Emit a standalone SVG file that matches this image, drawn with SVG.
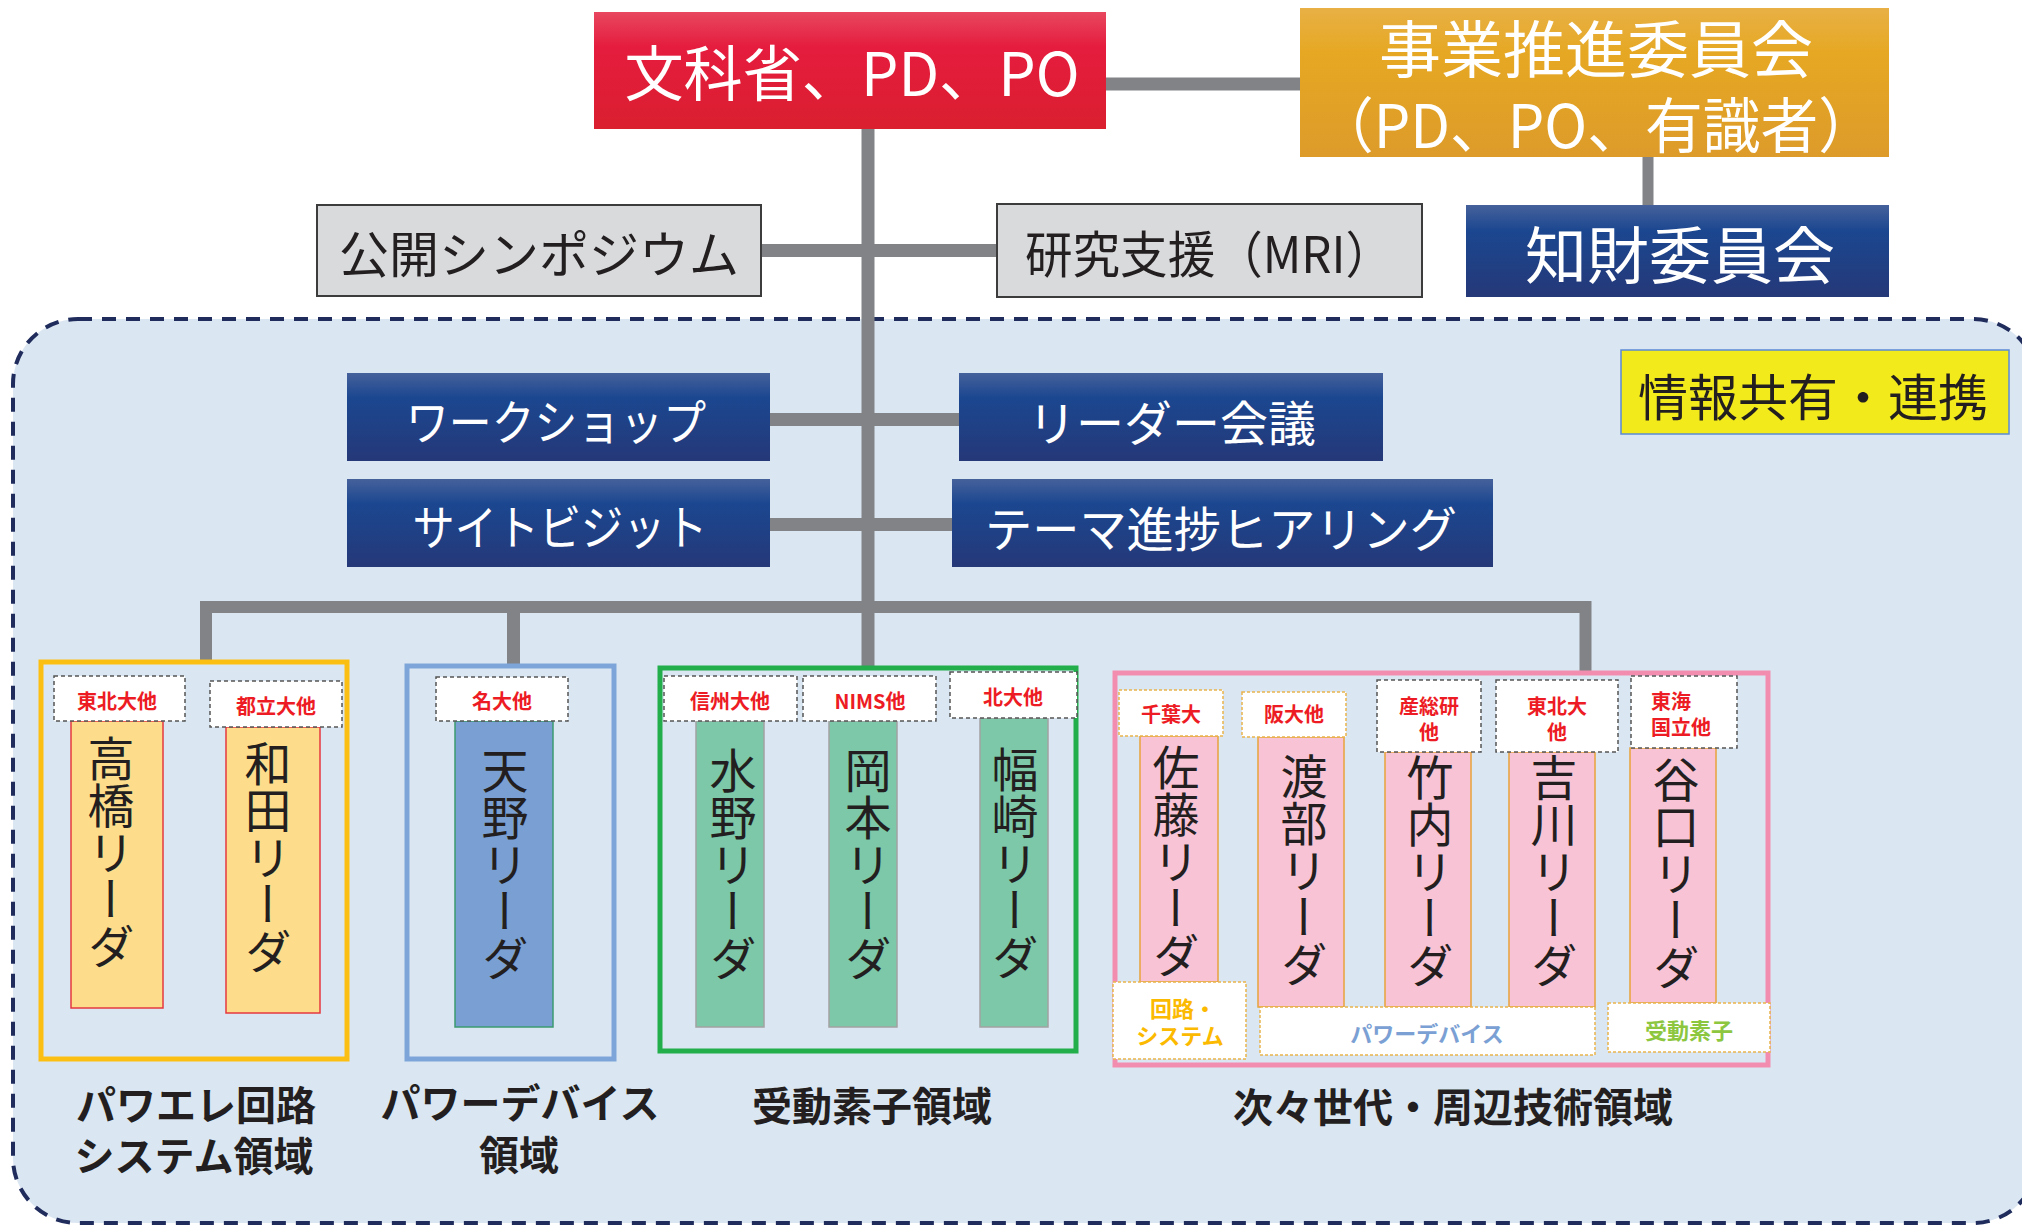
<svg xmlns="http://www.w3.org/2000/svg" width="2022" height="1226" viewBox="0 0 2022 1226">
<defs>
<linearGradient id="gRed" x1="0" y1="0" x2="0" y2="1">
<stop offset="0" stop-color="#e8475f"/><stop offset="0.3" stop-color="#e51c3e"/><stop offset="1" stop-color="#da1f2f"/>
</linearGradient>
<linearGradient id="gOrange" x1="0" y1="0" x2="0" y2="1">
<stop offset="0" stop-color="#e8b045"/><stop offset="0.3" stop-color="#e6a823"/><stop offset="1" stop-color="#dd9b2a"/>
</linearGradient>
<linearGradient id="gBlue" x1="0" y1="0" x2="0" y2="1">
<stop offset="0" stop-color="#46619b"/><stop offset="0.28" stop-color="#1b4790"/><stop offset="1" stop-color="#253878"/>
</linearGradient>
<style>
text{font-family:"Noto Sans CJK JP","Noto Sans CJK SC",sans-serif}
.w{fill:#fff}
.k{fill:#231f20}
.mid{text-anchor:middle}
.conn{fill:none;stroke:#818386;stroke-width:13}
.gray{fill:#d9dadc;stroke:#3c3c3c;stroke-width:2}
.blue{fill:url(#gBlue)}
.tag{fill:#fff;stroke:#555;stroke-width:1.5;stroke-dasharray:4 3}
.tagO{fill:#fff;stroke:#e9b44c;stroke-width:1.5;stroke-dasharray:3 2}
.red{fill:#ed1c24;font-weight:700;font-size:20px;text-anchor:middle}
.vt{writing-mode:vertical-rl;font-size:47px;fill:#231f20;text-anchor:middle}
.lbl{font-size:40px;font-weight:700;fill:#231f20;text-anchor:middle}
.grp{fill:none;stroke-width:5}
.barY{fill:#fddd8c;stroke:#e5383f;stroke-width:1.5}
.barB{fill:#7a9fd3;stroke:#3c9a72;stroke-width:1.5}
.barG{fill:#7cc8a9;stroke:#a3a3a3;stroke-width:1.5}
.barP{fill:#f9c3d6;stroke:#e9a23b;stroke-width:1.5}
.sub{font-weight:700;font-size:22px}
</style>
</defs>
<rect width="2022" height="1226" fill="#fff"/>
<rect id="region" x="13" y="319" width="2025" height="904" rx="65" ry="65" fill="#dbe6f3" stroke="#1f2c5c" stroke-width="4" stroke-dasharray="14 10"/>

<g id="connectors">
<path class="conn" d="M1106,84 H1300"/>
<path class="conn" d="M1648,157 V205" style="stroke-width:11"/>
<path class="conn" d="M761,250.5 H997"/>
<path class="conn" d="M770,419.5 H959"/>
<path class="conn" d="M770,524.5 H952"/>
<path class="conn" d="M206,660 V607 H1585.5 V672" style="stroke-width:12"/>
<path class="conn" d="M513.5,607 V664"/>
<path class="conn" d="M868,129 V667"/>
</g>

<g id="monka">
<rect x="594" y="12" width="512" height="117" fill="url(#gRed)"/>
<text class="w mid" x="852" y="96" font-size="60" textLength="455" lengthAdjust="spacingAndGlyphs">文科省、PD、PO</text>
</g>
<g id="suishin">
<rect x="1300" y="8" width="589" height="149" fill="url(#gOrange)"/>
<text class="w mid" font-size="62"><tspan x="1596" y="73">事業推進委員会</tspan><tspan x="1596" y="148" font-size="60" textLength="560" lengthAdjust="spacingAndGlyphs">（PD、PO、有識者）</tspan></text>
</g>
<g id="chizai">
<rect x="1466" y="205" width="423" height="92" class="blue"/>
<text class="w mid" x="1680" y="279" font-size="62">知財委員会</text>
</g>
<g id="symposium">
<rect x="317" y="205" width="444" height="91" class="gray"/>
<text class="k mid" x="539" y="273" font-size="50">公開シンポジウム</text>
</g>
<g id="mri">
<rect x="997" y="204" width="425" height="93" class="gray"/>
<text class="k mid" x="1209" y="273" font-size="50" textLength="368" lengthAdjust="spacingAndGlyphs">研究支援（MRI）</text>
</g>
<g id="workshop">
<rect x="347" y="373" width="423" height="88" class="blue"/>
<text class="w mid" x="556" y="440" font-size="48" textLength="300" lengthAdjust="spacingAndGlyphs">ワークショップ</text>
</g>
<g id="sitevisit">
<rect x="347" y="479" width="423" height="88" class="blue"/>
<text class="w mid" x="560" y="545" font-size="48" textLength="295" lengthAdjust="spacingAndGlyphs">サイトビジット</text>
</g>
<g id="leader">
<rect x="959" y="373" width="424" height="88" class="blue"/>
<text class="w mid" x="1172" y="441" font-size="48">リーダー会議</text>
</g>
<g id="hearing">
<rect x="952" y="479" width="541" height="88" class="blue"/>
<text class="w mid" x="1221" y="547" font-size="48" textLength="472" lengthAdjust="spacingAndGlyphs">テーマ進捗ヒアリング</text>
</g>
<g id="info">
<rect x="1621" y="350" width="388" height="84" fill="#f2ea1b" stroke="#5b8bd6" stroke-width="1.5"/>
<text class="k mid" x="1813" y="416" font-size="50">情報共有・連携</text>
</g>

<g id="powerele">
<rect class="grp" x="41" y="662" width="306" height="397" stroke="#fbbf14"/>
<rect class="barY" x="71" y="721" width="92" height="287"/>
<text class="vt" x="111" y="852">高橋リーダ</text>
<rect class="tag" x="54" y="676" width="131" height="45"/>
<text class="red" x="117" y="709">東北大他</text>
<rect class="barY" x="226" y="727" width="94" height="286"/>
<text class="vt" x="268" y="857">和田リーダ</text>
<rect class="tag" x="210" y="681" width="132" height="46"/>
<text class="red" x="276" y="714">都立大他</text>
<text class="lbl"><tspan x="196" y="1120">パワエレ回路</tspan><tspan x="194" y="1171">システム領域</tspan></text>
</g>

<g id="powerdevice">
<rect class="grp" x="407" y="666" width="207" height="393" stroke="#7ea5d9"/>
<rect class="barB" x="455" y="721" width="98" height="306"/>
<text class="vt" x="505" y="864">天野リーダ</text>
<rect class="tag" x="436" y="677" width="132" height="44"/>
<text class="red" x="502" y="709">名大他</text>
<text class="lbl"><tspan x="520" y="1118">パワーデバイス</tspan><tspan x="519" y="1170">領域</tspan></text>
</g>

<g id="passive">
<rect class="grp" x="660" y="668" width="416" height="383" stroke="#21ae4b"/>
<rect class="barG" x="696" y="721" width="68" height="306"/>
<text class="vt" x="733" y="864">水野リーダ</text>
<rect class="barG" x="829" y="721" width="68" height="306"/>
<text class="vt" x="868" y="864">岡本リーダ</text>
<rect class="barG" x="980" y="718" width="68" height="309"/>
<text class="vt" x="1015" y="863">幅崎リーダ</text>
<rect class="tag" x="664" y="676" width="133" height="45"/>
<text class="red" x="730" y="709">信州大他</text>
<rect class="tag" x="803" y="676" width="133" height="45"/>
<text class="red" x="870" y="709">NIMS他</text>
<rect class="tag" x="950" y="672" width="127" height="46"/>
<text class="red" x="1013" y="705">北大他</text>
<text class="lbl" x="872" y="1121" font-size="42">受動素子領域</text>
</g>

<g id="nextgen">
<rect class="grp" x="1115" y="673" width="653" height="392" stroke="#f38db0"/>
<rect class="barP" x="1140" y="736" width="78" height="246"/>
<text class="vt" x="1176" y="861">佐藤リーダ</text>
<rect class="tagO" x="1119" y="690" width="104" height="46"/>
<text class="red" x="1171" y="722">千葉大</text>
<rect class="tagO" x="1113" y="982" width="133" height="77"/>
<text class="sub" fill="#fbb900"><tspan x="1150" y="1017">回路・</tspan><tspan x="1180" y="1044" text-anchor="middle">システム</tspan></text>

<rect class="barP" x="1258" y="737" width="86" height="270"/>
<text class="vt" x="1304" y="870">渡部リーダ</text>
<rect class="tagO" x="1242" y="692" width="104" height="45"/>
<text class="red" x="1294" y="722">阪大他</text>

<rect class="barP" x="1385" y="752" width="86" height="255"/>
<text class="vt" x="1430" y="871">竹内リーダ</text>
<rect class="tag" x="1377" y="680" width="104" height="72"/>
<text class="red"><tspan x="1429" y="714">産総研</tspan><tspan x="1429" y="740">他</tspan></text>

<rect class="barP" x="1509" y="752" width="86" height="255"/>
<text class="vt" x="1554" y="871">吉川リーダ</text>
<rect class="tag" x="1496" y="680" width="122" height="72"/>
<text class="red"><tspan x="1557" y="714">東北大</tspan><tspan x="1557" y="740">他</tspan></text>

<rect class="barP" x="1630" y="748" width="86" height="255"/>
<text class="vt" x="1676" y="873">谷口リーダ</text>
<rect class="tag" x="1631" y="676" width="106" height="72"/>
<text class="red" style="text-anchor:start"><tspan x="1651" y="709">東海</tspan><tspan x="1651" y="735">国立他</tspan></text>

<rect class="tagO" x="1260" y="1007" width="335" height="48"/>
<text class="sub mid" x="1427" y="1042" fill="#7ba0d4">パワーデバイス</text>
<rect class="tagO" x="1608" y="1003" width="162" height="49"/>
<text class="sub mid" x="1689" y="1039" fill="#8dc63f">受動素子</text>
<text class="lbl" x="1453" y="1122" font-size="41">次々世代・周辺技術領域</text>
</g>
</svg>
